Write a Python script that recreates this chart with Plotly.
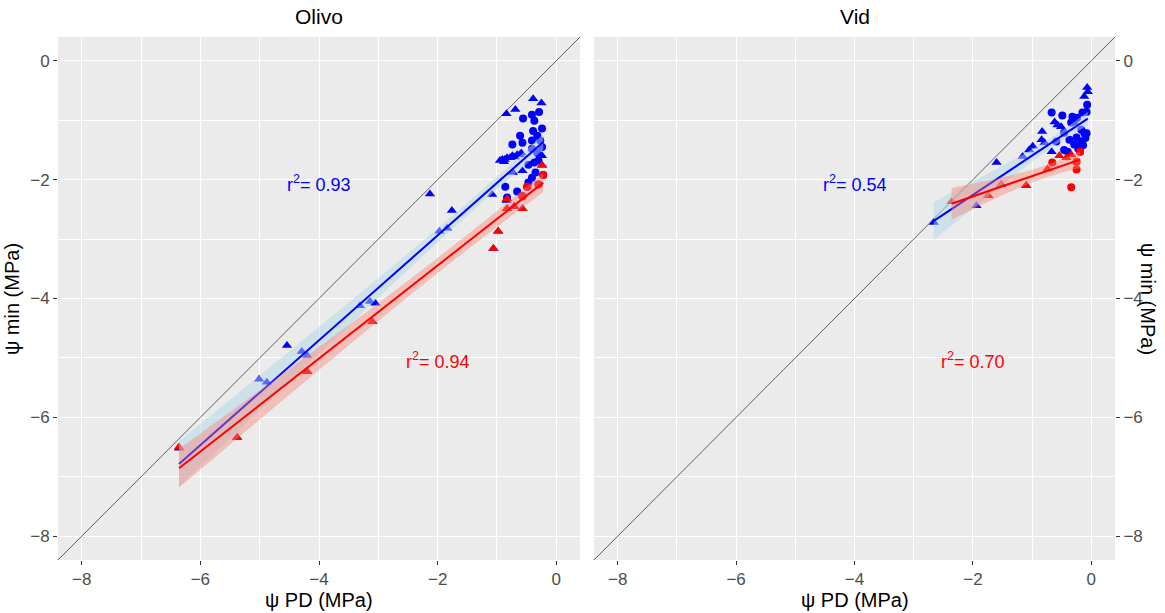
import numpy as np
import plotly.graph_objects as go

# ---- Olivo: psi PD (x) vs psi min (y) ----
olivo_blue_tri_x = [-6.36, -5.38, -5.01, -4.88, -4.54, -4.29, -4.20, -4.20, -3.31, -3.14,
                    -3.10, -3.05,
                    -2.13, -1.97, -1.84, -1.76, -1.08, -0.84,
                    -0.84, -0.69, -0.39, -0.25,
                    -0.91, -0.83, -0.74, -0.66, -0.59, -0.24, -0.73, -0.57,
                    -0.95, -0.87, -0.78, -0.70, -0.62, -0.88,
                    -1.06, -0.98, -0.83, -0.83, -0.71, -0.57, -0.24]
olivo_blue_tri_y = [-6.52, -6.34, -5.36, -5.41, -4.79, -4.89, -4.96, -5.23, -4.12, -4.05,
                    -4.39, -4.08,
                    -2.24, -2.87, -2.82, -2.52, -2.25, -2.35,
                    -0.89, -0.82, -0.64, -0.71,
                    -1.66, -1.63, -1.60, -1.58, -1.55, -1.60, -1.88, -1.85,
                    -1.68, -1.66, -1.63, -1.62, -1.58, -1.70,
                    -3.16, -2.87, -2.32, -2.49, -2.45, -2.49, -1.76]
olivo_blue_cir_x = [-0.56, -0.41, -0.29, -0.37, -0.24, -0.39, -0.32, -0.61, -0.41, -0.27,
                    -0.74, -0.57, -0.24, -0.41, -0.32, -0.47, -0.37, -0.30, -0.35, -0.41,
                    -0.47, -0.86, -0.66, -0.83,
                    -0.22, -0.30, -0.49, -0.57]
olivo_blue_cir_y = [-0.97, -0.91, -0.86, -1.01, -1.14, -1.18, -1.26, -1.26, -1.34, -1.34,
                    -1.41, -1.38, -1.45, -1.48, -1.55, -1.75, -1.71, -1.68, -1.88, -1.97,
                    -2.05, -2.12, -2.20, -2.30,
                    -1.92, -2.08, -2.12, -2.28]
olivo_red_tri_x = [-6.36, -5.38, -4.20, -3.10, -1.06, -0.98, -0.83, -0.83, -0.71, -0.57, -0.24]
olivo_red_tri_y = [-6.50, -6.34, -5.23, -4.39, -3.16, -2.87, -2.32, -2.49, -2.45, -2.49, -1.76]
olivo_red_cir_x = [-0.22, -0.30, -0.49, -0.57]
olivo_red_cir_y = [-1.92, -2.08, -2.12, -2.28]

# ---- Vid ----
vid_blue_tri_x = [-2.66, -1.94, -1.74, -1.60, -1.52, -1.16, -1.10, -1.05, -0.99, -0.84,
                  -0.79, -0.83, -0.67, -0.62, -0.57, -0.51, -0.07, -0.06, -0.12]
vid_blue_tri_y = [-2.72, -2.44, -2.27, -1.71, -2.08, -1.61, -2.10, -1.50, -1.44, -1.33,
                  -1.38, -1.19, -1.53, -1.03, -1.08, -1.11, -0.45, -0.52, -0.60]
vid_blue_cir_x = [-0.67, -0.49, -0.32, -0.24, -0.07, -0.08, -0.15, -0.34, -0.29, -0.46,
                  -0.17, -0.12, -0.59, -0.37, -0.25, -0.17, -0.29, -0.20, -0.46, -0.40,
                  -0.10, -0.14, -0.22, -0.08, -0.19]
vid_blue_cir_y = [-0.87, -0.92, -0.94, -0.96, -0.74, -0.86, -0.87, -1.04, -1.02, -1.21,
                  -1.16, -1.21, -1.36, -1.33, -1.29, -1.36, -1.41, -1.44, -1.50, -1.53,
                  -1.30, -1.42, -1.48, -1.22, -1.53]
vid_red_tri_x = [-2.36, -1.74, -1.52, -1.10, -0.74, -0.54, -0.42, -0.34]
vid_red_tri_y = [-2.37, -2.27, -2.08, -2.10, -1.82, -1.60, -1.63, -1.58]
vid_red_cir_x = [-0.66, -0.25, -0.25, -0.34, -0.19]
vid_red_cir_y = [-1.71, -1.70, -1.83, -2.13, -1.53]

r2_labels = {"Olivo": ("0.93", "0.94"), "Vid": ("0.54", "0.70")}
panel_titles = ["Olivo", "Vid"]
tick_vals = [-8, -6, -4, -2, 0]
axis_range = [-8.4, 0.4]

BLUE = "#0000FF"
RED = "#FF0000"
BAND_BLUE = "rgba(173,216,230,0.5)"
BAND_RED = "rgba(250,128,114,0.42)"
PANEL_BG = "#EBEBEB"
FONT = "Liberation Sans, Arial, sans-serif"


def t_quantile(df, z=1.959964):
    # Cornish-Fisher expansion of the Student t 97.5% quantile
    return (z + (z**3 + z) / (4 * df) + (5 * z**5 + 16 * z**3 + 3 * z) / (96 * df**2)
            + (3 * z**7 + 19 * z**5 + 17 * z**3 - 15 * z) / (384 * df**3))


def lm_fit(x, y, npts=80):
    x = np.asarray(x, float)
    y = np.asarray(y, float)
    n = len(x)
    slope, icpt = np.polyfit(x, y, 1)
    resid = y - (icpt + slope * x)
    s = np.sqrt(np.sum(resid**2) / (n - 2))
    xbar = x.mean()
    sxx = np.sum((x - xbar) ** 2)
    xs = np.linspace(x.min(), x.max(), npts)
    yh = icpt + slope * xs
    se = s * np.sqrt(1.0 / n + (xs - xbar) ** 2 / sxx)
    t = t_quantile(n - 2)
    return xs, yh, yh - t * se, yh + t * se


fig = go.Figure()

panels = [
    ("x", "y", olivo_blue_tri_x, olivo_blue_tri_y, olivo_blue_cir_x, olivo_blue_cir_y,
     olivo_red_tri_x, olivo_red_tri_y, olivo_red_cir_x, olivo_red_cir_y),
    ("x2", "y2", vid_blue_tri_x, vid_blue_tri_y, vid_blue_cir_x, vid_blue_cir_y,
     vid_red_tri_x, vid_red_tri_y, vid_red_cir_x, vid_red_cir_y),
]

for (xa, ya, btx, bty, bcx, bcy, rtx, rty, rcx, rcy) in panels:
    # 1:1 line
    fig.add_trace(go.Scatter(x=axis_range, y=axis_range, mode="lines",
                             line=dict(color="black", width=0.6),
                             xaxis=xa, yaxis=ya, hoverinfo="skip"))
    # points
    for px, py, col, sym, sz in [(btx, bty, BLUE, "triangle-up", 9),
                                 (bcx, bcy, BLUE, "circle", 8),
                                 (rtx, rty, RED, "triangle-up", 9),
                                 (rcx, rcy, RED, "circle", 8)]:
        fig.add_trace(go.Scatter(x=px, y=py, mode="markers",
                                 marker=dict(color=col, symbol=sym, size=sz,
                                             line=dict(width=0)),
                                 xaxis=xa, yaxis=ya))
    # linear fits with 95% confidence bands
    for fx, fy, col, band in [(btx + bcx, bty + bcy, BLUE, BAND_BLUE),
                              (rtx + rcx, rty + rcy, RED, BAND_RED)]:
        xs, yh, lo, hi = lm_fit(fx, fy)
        fig.add_trace(go.Scatter(x=np.concatenate([xs, xs[::-1]]),
                                 y=np.concatenate([lo, hi[::-1]]),
                                 fill="toself", fillcolor=band, mode="none",
                                 xaxis=xa, yaxis=ya, hoverinfo="skip"))
        fig.add_trace(go.Scatter(x=xs, y=yh, mode="lines",
                                 line=dict(color=col, width=2),
                                 xaxis=xa, yaxis=ya))

W, H = 1165, 613
ydom = [1 - 560 / H, 1 - 37 / H]
axis_common = dict(range=axis_range, tickvals=tick_vals, showgrid=True,
                   gridcolor="white", gridwidth=1.2, zeroline=False,
                   ticks="outside", ticklen=4, tickcolor="#333333", tickwidth=1,
                   tickfont=dict(family=FONT, size=17, color="#4D4D4D"),
                   minor=dict(tickvals=[-7, -5, -3, -1], showgrid=True,
                              gridcolor="white", gridwidth=0.6, ticks=""),
                   showline=False, fixedrange=True)

fig.update_layout(
    width=W, height=H, margin=dict(l=0, r=0, t=0, b=0),
    paper_bgcolor="white", plot_bgcolor=PANEL_BG, showlegend=False,
    font=dict(family=FONT, color="black"),
    xaxis=dict(domain=[58 / W, 580 / W], anchor="y", **axis_common),
    yaxis=dict(domain=ydom, anchor="x", side="left", **axis_common),
    xaxis2=dict(domain=[594 / W, 1115 / W], anchor="y2", **axis_common),
    yaxis2=dict(domain=ydom, anchor="x2", side="right", **axis_common),
)

ann = []
title_font = dict(family=FONT, size=21, color="black")
lab_font = dict(family=FONT, size=20, color="black")
for cx, name in [(319, panel_titles[0]), (855, panel_titles[1])]:
    ann.append(dict(x=cx / W, y=1 - 17 / H, xref="paper", yref="paper", text=name,
                    xanchor="center", yanchor="middle", showarrow=False, font=title_font))
    ann.append(dict(x=cx / W, y=1 - 600 / H, xref="paper", yref="paper",
                    text="ψ PD (MPa)", xanchor="center", yanchor="middle",
                    showarrow=False, font=lab_font))
ann.append(dict(x=12 / W, y=1 - 299 / H, xref="paper", yref="paper", text="ψ min (MPa)",
                textangle=-90, xanchor="center", yanchor="middle",
                showarrow=False, font=lab_font))
ann.append(dict(x=1148 / W, y=1 - 299 / H, xref="paper", yref="paper", text="ψ min (MPa)",
                textangle=90, xanchor="center", yanchor="middle",
                showarrow=False, font=lab_font))

r2_font = dict(family=FONT, size=18)
for name, xr, yr in [("Olivo", "x", "y"), ("Vid", "x2", "y2")]:
    b, r = r2_labels[name]
    ann.append(dict(x=-4.0, y=-2.07, xref=xr, yref=yr, text=f"r<sup>2</sup>= {b}",
                    xanchor="center", yanchor="middle",
                    showarrow=False, font=dict(color=BLUE, **r2_font)))
    ann.append(dict(x=-2.0, y=-5.04, xref=xr, yref=yr, text=f"r<sup>2</sup>= {r}",
                    xanchor="center", yanchor="middle",
                    showarrow=False, font=dict(color=RED, **r2_font)))
fig.update_layout(annotations=ann)

fig.write_html("out.html")
